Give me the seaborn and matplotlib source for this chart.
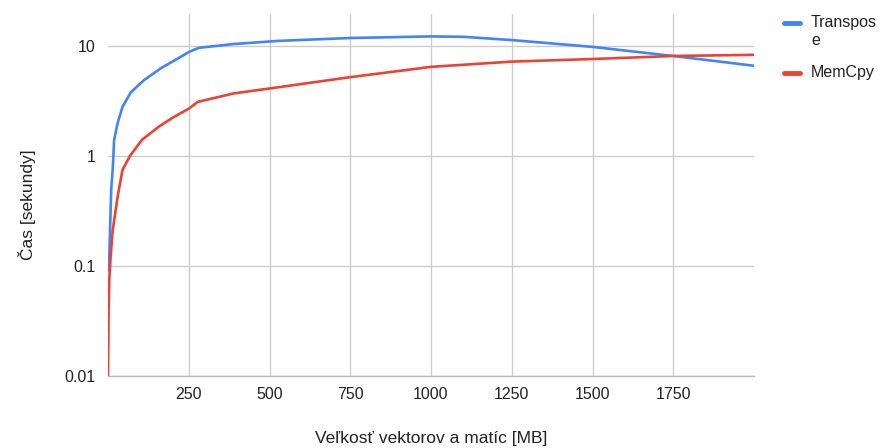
import numpy                as np
import pandas               as pd
import seaborn              as sns
import matplotlib.pyplot    as plt
from matplotlib.lines   import Line2D
from matplotlib.ticker  import FixedLocator, FixedFormatter, NullLocator

# ======================================================================== DATA ========================================================================

transpose_mb   = [0, 4, 7, 10, 14.5, 19, 25, 30, 45, 71, 112, 165, 210, 250, 281, 389, 525, 750, 1000, 1100, 1250, 1500, 1750, 2000]
transpose_time = [0.09, 0.12, 0.25, 0.5, 0.75, 1.4, 1.7, 2.0, 2.8, 3.8, 4.9, 6.3, 7.5, 8.8, 9.6, 10.4, 11.1, 11.8, 12.2, 12.1, 11.3, 9.8, 8.1, 6.6]

memcpy_mb   = [0, 2, 4, 8, 14.5, 30, 45, 68, 105, 158, 197, 251, 278, 389, 525, 750, 1000, 1250, 1500, 1750, 2000]
memcpy_time = [0.01, 0.04, 0.075, 0.12, 0.21, 0.43, 0.75, 1.0, 1.4, 1.85, 2.2, 2.7, 3.1, 3.7, 4.2, 5.2, 6.45, 7.2, 7.6, 8.1, 8.3]

series_names  = ["Transpose", "MemCpy"]
legend_labels = ["Transpos\ne", "MemCpy"]
x_ticks       = [250, 500, 750, 1000, 1250, 1500, 1750]
y_ticks       = [0.01, 0.1, 1, 10]
y_tick_labels = ["0.01", "0.1", "1", "10"]

# ======================================================================== PLOT ========================================================================

df = pd.concat([
    pd.DataFrame({"MB": transpose_mb, "Time": transpose_time, "Series": series_names[0]}),
    pd.DataFrame({"MB": memcpy_mb, "Time": memcpy_time, "Series": series_names[1]}),
], ignore_index=True)

sns.set_theme(style="white")
plt.rcParams['font.family'] = ['Liberation Sans', 'DejaVu Sans']

W, H = 884, 448
fig = plt.figure(figsize=(W / 100, H / 100), dpi=100)
ax = fig.add_axes([108/W, 72/H, (754-108)/W, (434-72)/H])

palette = {"Transpose": "#4285F4", "MemCpy": "#EA4335"}
sns.lineplot(data=df, x="MB", y="Time", hue="Series", palette=palette, linewidth=1.9, ax=ax, legend=False, sort=True)

ax.set_yscale("log")
ax.set_xlim(0, 2000)
ax.set_ylim(0.01, 19.5)

ax.xaxis.set_major_locator(FixedLocator(x_ticks))
ax.yaxis.set_major_locator(FixedLocator(y_ticks))
ax.yaxis.set_major_formatter(FixedFormatter(y_tick_labels))
ax.yaxis.set_minor_locator(NullLocator())
ax.grid(True, color="#cccccc", linewidth=1)
ax.set_axisbelow(True)
ax.tick_params(axis="both", length=0, labelsize=11.5, labelcolor="#222222")
ax.tick_params(axis="x", pad=8)
ax.tick_params(axis="y", pad=9)

for side in ["top", "right", "left"]:
    ax.spines[side].set_visible(False)
ax.spines["bottom"].set_color("#bbbbbb")
ax.spines["bottom"].set_linewidth(1)

ax.set_xlabel("")
ax.set_ylabel("")
fig.text(431/W, 1 - 438/H, "Veľkosť vektorov a matíc [MB]", ha="center", va="center", fontsize=12.5, color="#222222")
fig.text(27/W, 1 - 205/H, "Čas [sekundy]", ha="center", va="center", rotation=90, fontsize=12.5, color="#222222")

# Legend (drawn by hand so the wrapped label keeps its handle on the first line)
for name, label, y in zip(series_names, legend_labels, [23, 73]):
    fig.add_artist(Line2D([784/W, 800/W], [1 - y/H, 1 - y/H], color=palette[name], linewidth=3.5, transform=fig.transFigure))
    fig.text(811/W, 1 - (y - 8)/H, label, ha="left", va="top", fontsize=11.5, color="#222222", linespacing=1.25)

plt.savefig("out.png", dpi=100)
